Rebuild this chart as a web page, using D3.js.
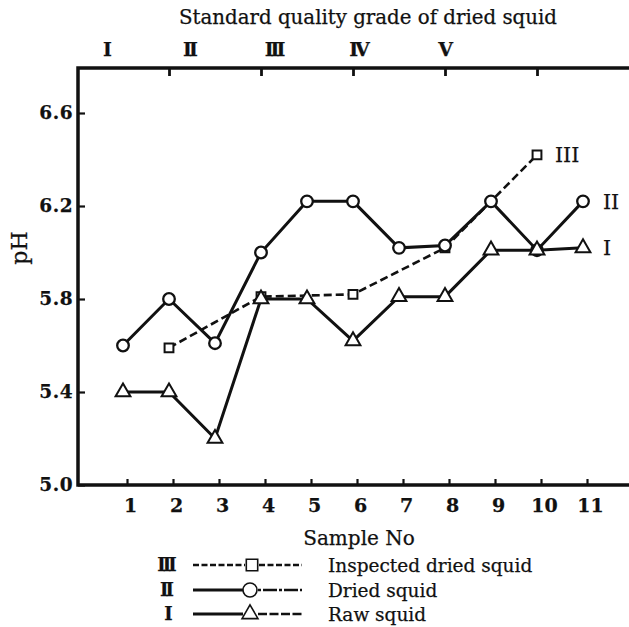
<!DOCTYPE html>
<html>
<head>
<meta charset="utf-8">
<script src="https://cdn.jsdelivr.net/npm/d3@7"></script>
<style>
  html, body { margin: 0; padding: 0; background: #fff; }
  svg { display: block; }
  text { font-family: "DejaVu Serif", "Liberation Serif", serif; fill: #111; stroke: #111; stroke-width: 0.25px; }
</style>
</head>
<body>
<script>
// ---- data ----
const samples = [1, 2, 3, 4, 5, 6, 7, 8, 9, 10, 11];
const rawSquid = [5.40, 5.40, 5.20, 5.80, 5.80, 5.62, 5.81, 5.81, 6.01, 6.01, 6.02];
const driedSquid = [5.60, 5.80, 5.61, 6.00, 6.22, 6.22, 6.02, 6.03, 6.22, 6.01, 6.22];
const inspectedSamples = [2, 4, 6, 8, 10];
const inspectedDried = [5.59, 5.81, 5.82, 6.02, 6.42];
const yTicks = [5.0, 5.4, 5.8, 6.2, 6.6];
const topTicks = [2, 4, 6, 8, 10];
const gradeLabels = ["I", "II", "III", "IV", "V"];
const seriesTags = ["III", "II", "I"];
const legendTags = ["III", "II", "I"];
const legendNames = ["Inspected dried squid", "Dried squid", "Raw squid"];

const W = 629, H = 627;
const svg = d3.select("body").append("svg").attr("width", W).attr("height", H);
svg.append("rect").attr("width", W).attr("height", H).attr("fill", "#fff");

const x = d3.scaleLinear().domain([1, 11]).range([123, 583]);
const y = d3.scaleLinear().domain([5.0, 6.6]).range([485, 113]);
const axisLeftX = 78, axisTopY = 68, axisRightX = 629;
const gradeX = d3.scaleLinear().domain([0, 4]).range([106, 444]);

const ink = "#111";

// ---- axes ----
const gB = svg.append("g").attr("transform", `translate(4,${y(5.0)})`)
  .call(d3.axisBottom(x).tickValues(samples).tickFormat(d3.format("d"))
        .tickSizeInner(-6).tickSizeOuter(0).tickPadding(14));
gB.select(".domain").remove();
gB.selectAll(".tick line").attr("stroke", ink).attr("stroke-width", 2.2);
gB.selectAll(".tick text").attr("font-size", 19).attr("font-weight", "bold")
  .attr("fill", ink).attr("dx", 3);

const gL = svg.append("g").attr("transform", `translate(${axisLeftX},0)`)
  .call(d3.axisLeft(y).tickValues(yTicks).tickFormat(d3.format(".1f"))
        .tickSizeInner(-7).tickSizeOuter(0).tickPadding(5));
gL.select(".domain").remove();
gL.selectAll(".tick line").attr("stroke", ink).attr("stroke-width", 2.2);
gL.selectAll(".tick text").attr("font-size", 18.5).attr("font-weight", "bold")
  .attr("fill", ink).attr("letter-spacing", 0.5);

const gT = svg.append("g").attr("transform", `translate(0,${axisTopY})`)
  .call(d3.axisTop(x).tickValues(topTicks).tickFormat("")
        .tickSizeInner(-8).tickSizeOuter(0));
gT.select(".domain").remove();
gT.selectAll(".tick line").attr("stroke", ink).attr("stroke-width", 2.8);

svg.append("path")
  .attr("d", `M${axisRightX},${axisTopY}H${axisLeftX}V${y(5.0)}H${axisRightX}`)
  .attr("fill", "none").attr("stroke", ink).attr("stroke-width", 3.5);

// grade labels on top (compact numerals)
svg.append("g").selectAll("text").data(gradeLabels).join("text")
  .attr("x", (d, i) => gradeX(i)).attr("y", 56)
  .attr("text-anchor", "middle").attr("font-size", 19).attr("font-weight", "bold")
  .attr("letter-spacing", -3).attr("dx", d => d.length > 1 ? -1.5 : 0)
  .text(d => d);

// titles
svg.append("text").attr("x", 368).attr("y", 24).attr("text-anchor", "middle")
  .attr("font-size", 19.8).text("Standard quality grade of dried squid");
svg.append("text").attr("transform", `translate(27,${248}) rotate(-90)`)
  .attr("text-anchor", "middle").attr("font-size", 22).text("pH");
svg.append("text").attr("x", 359).attr("y", 545).attr("text-anchor", "middle")
  .attr("font-size", 20).text("Sample No");

// ---- series ----
const line = d3.line().x(d => x(d[0])).y(d => y(d[1]));
const rawPts = samples.map((s, i) => [s, rawSquid[i]]);
const driedPts = samples.map((s, i) => [s, driedSquid[i]]);
const inspPts = inspectedSamples.map((s, i) => [s, inspectedDried[i]]);

svg.append("path").attr("d", line(inspPts)).attr("fill", "none")
  .attr("stroke", ink).attr("stroke-width", 2.6).attr("stroke-dasharray", "8,4");
svg.append("path").attr("d", line(driedPts)).attr("fill", "none")
  .attr("stroke", ink).attr("stroke-width", 3);
svg.append("path").attr("d", line(rawPts)).attr("fill", "none")
  .attr("stroke", ink).attr("stroke-width", 3);

const tri = d3.symbol(d3.symbolTriangle, 95);
const sq = d3.symbol(d3.symbolSquare, 78);

svg.append("g").selectAll("path").data(inspPts).join("path")
  .attr("d", sq).attr("transform", d => `translate(${x(d[0])},${y(d[1])})`)
  .attr("fill", "#fff").attr("stroke", ink).attr("stroke-width", 2);
svg.append("g").selectAll("circle").data(driedPts).join("circle")
  .attr("cx", d => x(d[0])).attr("cy", d => y(d[1])).attr("r", 5.8)
  .attr("fill", "#fff").attr("stroke", ink).attr("stroke-width", 2.3);
svg.append("g").selectAll("path").data(rawPts).join("path")
  .attr("d", tri).attr("transform", d => `translate(${x(d[0])},${y(d[1])})`)
  .attr("fill", "#fff").attr("stroke", ink).attr("stroke-width", 2);

// end-of-series tags
const lastPts = [inspPts[inspPts.length - 1], driedPts[driedPts.length - 1], rawPts[rawPts.length - 1]];
svg.append("g").selectAll("text").data(seriesTags).join("text")
  .attr("x", (d, i) => x(lastPts[i][0]) + (i === 0 ? 18 : 20))
  .attr("y", (d, i) => y(lastPts[i][1]))
  .attr("dy", "0.36em").attr("font-size", 20.5).text(d => d);

// ---- legend ----
const legRowY = [565, 590, 614];
const lg = svg.append("g");
legendTags.forEach((t, i) => {
  const yy = legRowY[i];
  lg.append("text").attr("x", 167).attr("y", yy).attr("dy", "0.36em")
    .attr("text-anchor", "middle").attr("font-size", 18).attr("font-weight", "bold")
    .attr("letter-spacing", -3).attr("dx", t.length > 1 ? -1.5 : 0).text(t);
  lg.append("line").attr("x1", 193).attr("x2", i === 0 ? 245 : 243).attr("y1", yy).attr("y2", yy)
    .attr("stroke", ink).attr("stroke-width", i === 0 ? 2.4 : 3)
    .attr("stroke-dasharray", i === 0 ? "6,2.5" : null);
  lg.append("line").attr("x1", i === 0 ? 259 : 258).attr("x2", 302).attr("y1", yy).attr("y2", yy)
    .attr("stroke", ink).attr("stroke-width", 2.4)
    .attr("stroke-dasharray", i === 0 ? "6,2.5" : (i === 1 ? "3,2,14,2" : "9,2.5"));
  if (i === 0) {
    lg.append("path").attr("d", d3.symbol(d3.symbolSquare, 130))
      .attr("transform", `translate(252,${yy})`)
      .attr("fill", "#fff").attr("stroke", ink).attr("stroke-width", 1.6);
  } else if (i === 1) {
    lg.append("circle").attr("cx", 250).attr("cy", yy).attr("r", 7)
      .attr("fill", "#fff").attr("stroke", ink).attr("stroke-width", 1.6);
  } else {
    lg.append("path").attr("d", d3.symbol(d3.symbolTriangle, 110))
      .attr("transform", `translate(250,${yy})`)
      .attr("fill", "#fff").attr("stroke", ink).attr("stroke-width", 1.6);
  }
  lg.append("text").attr("x", 328).attr("y", yy).attr("dy", "0.36em")
    .attr("font-size", 18.5).text(legendNames[i]);
});
</script>
</body>
</html>
